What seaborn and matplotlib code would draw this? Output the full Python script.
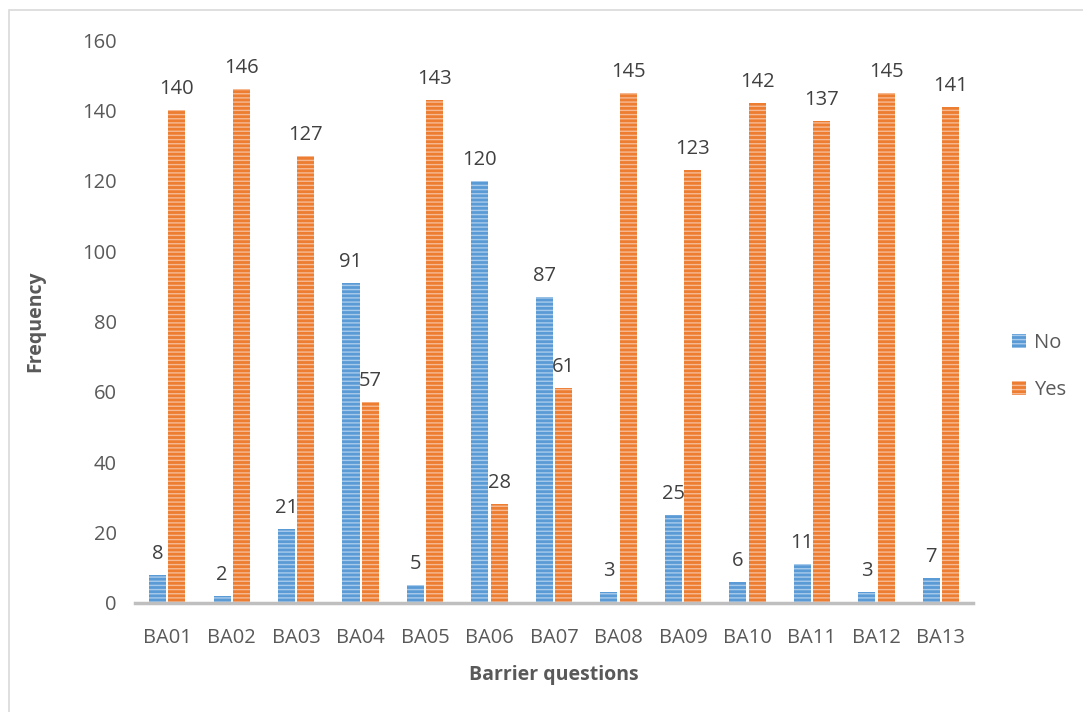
import matplotlib
matplotlib.use("Agg")
import matplotlib.pyplot as plt
from matplotlib.patches import Rectangle
import seaborn as sns
import pandas as pd

categories = ["BA01", "BA02", "BA03", "BA04", "BA05", "BA06", "BA07",
              "BA08", "BA09", "BA10", "BA11", "BA12", "BA13"]
no_values = [8, 2, 21, 91, 5, 120, 87, 3, 25, 6, 11, 3, 7]
yes_values = [140, 146, 127, 57, 143, 28, 61, 145, 123, 142, 137, 145, 141]
series = ["No", "Yes"]
y_ticks = [0, 20, 40, 60, 80, 100, 120, 140, 160]

colors = {"No": "#5B9BD5", "Yes": "#ED7D31"}
stripe = {"No": "#A9CBEB", "Yes": "#F6BB95"}
text_color = "#595959"

sns.set_theme(style="white")
plt.rcParams["font.family"] = ["Open Sans", "DejaVu Sans"]
plt.rcParams["hatch.linewidth"] = 1.0

df = pd.DataFrame({
    "question": categories * 2,
    "answer": ["No"] * len(categories) + ["Yes"] * len(categories),
    "freq": no_values + yes_values,
})

fig = plt.figure(figsize=(10.83, 7.12), dpi=100)
ax = fig.add_axes([0.1247, 0.1531, 0.7738, 0.7907])

sns.barplot(data=df, x="question", y="freq", hue="answer", order=categories,
            hue_order=series, palette=colors, width=0.6, gap=0.12,
            saturation=1, ax=ax, legend=True)

# striped fill on each bar
for container, name in zip(ax.containers, series):
    for bar in container:
        bar.set_hatch("----")
        bar.set_edgecolor(stripe[name])
        bar.set_linewidth(0)
    ax.bar_label(container, labels=[str(int(v)) for v in container.datavalues],
                 padding=8, fontsize=14.5, color="#404040")

ax.set_ylim(0, 160)
ax.set_yticks(y_ticks)
ax.set_xlim(-0.5, len(categories) - 0.5)
ax.tick_params(axis="both", labelsize=14.5, colors=text_color, length=0)
ax.tick_params(axis="y", pad=13)
ax.tick_params(axis="x", pad=18)
for side in ["top", "right", "left"]:
    ax.spines[side].set_visible(False)
ax.spines["bottom"].set_color("#BFBFBF")
ax.spines["bottom"].set_linewidth(2.5)

ax.set_xlabel("Barrier questions", fontsize=14, fontweight="bold",
              color=text_color, labelpad=12)
ax.set_ylabel("Frequency", fontsize=14, fontweight="bold",
              color=text_color, labelpad=27)

handles, labels = ax.get_legend_handles_labels()
for h, name in zip(handles, series):
    h.set_hatch("----")
    h.set_edgecolor(stripe[name])
    h.set_linewidth(0)
leg = ax.legend(handles, labels, loc="center left", bbox_to_anchor=(1.025, 0.42),
                frameon=False, fontsize=14.5, handlelength=0.7, handleheight=0.7,
                handletextpad=0.4, labelspacing=1.35, labelcolor=text_color)

# chart border
fig.add_artist(Rectangle((8.5 / 1083, -0.05), 1.1, 1 - 9.5 / 712 + 0.05,
                         transform=fig.transFigure, fill=False,
                         edgecolor="#D9D9D9", linewidth=1.2))

fig.savefig("out.png", dpi=100)
